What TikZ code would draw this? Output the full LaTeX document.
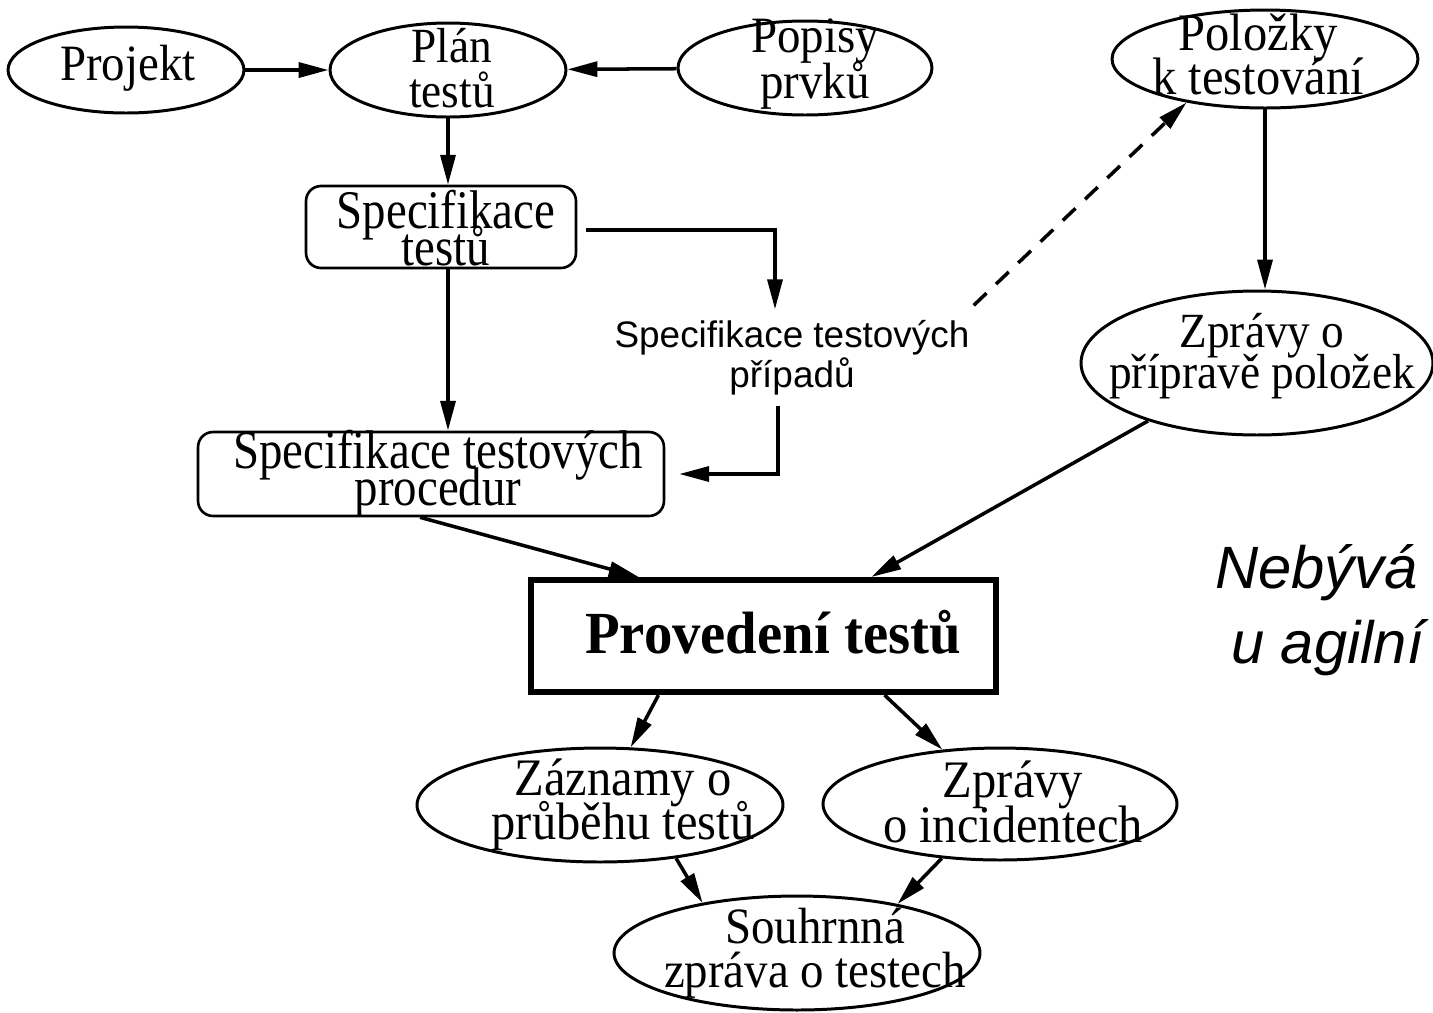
\documentclass[tikz,border=0pt]{standalone}
\usepackage{fontspec}
\setmainfont{Liberation Serif}
\newfontfamily\ElF[FakeStretch=0.92]{Liberation Serif}
\newfontfamily\BxF[FakeStretch=0.86]{Liberation Serif}
\newfontfamily\PvF[FakeStretch=0.95]{Liberation Serif}
\newfontfamily\SnF{Liberation Sans}
\usetikzlibrary{arrows.meta,shapes.geometric,calc}
\newcommand\fsz[2]{\fontsize{#1}{#2}\selectfont\lineskiplimit=-100pt\lineskip=0pt}
\tikzset{
 ell/.style={draw, ellipse, line width=1.7pt, inner sep=0pt},
 rbox/.style={draw, rectangle, rounded corners=0.3cm, line width=1.5pt, inner sep=0pt},
 mainbox/.style={draw, rectangle, line width=3.5pt, inner sep=0pt},
 lbl/.style={inner sep=0pt, align=center},
 arr/.style={line width=2pt, -{Triangle[length=17pt,width=8.5pt]}},
}
\begin{document}
\begin{tikzpicture}[x=0.02cm,y=-0.02cm]
\useasboundingbox (0,0) rectangle (1433,1012);
% shapes
\node[ell, minimum width=4.72cm, minimum height=1.72cm] (projekt) at (126,70) {};
\node[ell, minimum width=4.72cm, minimum height=1.88cm] (plan) at (448,70) {};
\node[ell, minimum width=5.08cm, minimum height=1.88cm] (popisy) at (805,68) {};
\node[ell, minimum width=6.12cm, minimum height=1.96cm] (polozky) at (1265,59) {};
\node[ell, minimum width=7.04cm, minimum height=2.88cm] (zpravyp) at (1257,363) {};
\node[rbox, minimum width=5.4cm, minimum height=1.64cm] (spectest) at (441,227) {};
\node[rbox, minimum width=9.32cm, minimum height=1.68cm] (procedur) at (431,474) {};
\node[mainbox, minimum width=9.3cm, minimum height=2.24cm] (provedeni) at (763.5,636) {};
\node[ell, minimum width=7.32cm, minimum height=2.28cm] (zaznamy) at (600,805) {};
\node[ell, minimum width=7.08cm, minimum height=2.24cm] (zpravyi) at (1000,804) {};
\node[ell, minimum width=7.32cm, minimum height=2.28cm] (souhrnna) at (797,953) {};
% texts
\node[lbl, font=\ElF\fsz{29}{24}] (projekt-t) at (128,68) {Projekt};
\node[lbl, font=\ElF\fsz{28}{26}] (plan-t) at (452,68) {Plán\\testů};
\node[lbl, font=\ElF\fsz{29}{26}] (popisy-t) at (815,64) {Popisy\\prvků};
\node[lbl, font=\ElF\fsz{30}{25}] (polozky-t) at (1258,54) {Položky\\k testování};
\node[lbl, font=\ElF\fsz{28}{23}] (zpravyp-t) at (1262,356) {Zprávy o\\přípravě položek};
\node[lbl, font=\BxF\fsz{31}{21}] (spectest-t) at (446,228) {Specifikace\\testů};
\node[lbl, font=\BxF\fsz{31}{21}] (procedur-t) at (438,474) {Specifikace testových\\procedur};
\node[lbl, font=\PvF\bfseries\fsz{34}{34}] (provedeni-t) at (773,632) {Provedení testů};
\node[lbl, font=\ElF\fsz{30}{25}] (zaznamy-t) at (623,805) {Záznamy o\\průběhu testů};
\node[lbl, font=\ElF\fsz{30}{26}] (zpravyi-t) at (1013,802) {Zprávy\\o incidentech};
\node[lbl, font=\ElF\fsz{29}{25}] (souhrnna-t) at (815,953) {Souhrnná\\zpráva o testech};
\node[lbl, font=\SnF\fsz{21}{22.7}] (pripady) at (792,358) {Specifikace testových\\případů};
\node[inner sep=0pt, anchor=base west, align=left, font=\SnF\itshape\fsz{34}{42.5}] (note) at (1215,663) {Nebývá\\\hspace*{9pt}u agilní};
% connectors
\draw[arr] (projekt) -- (plan);
\draw[arr] (popisy) -- (plan);
\draw[arr] (plan.south) -- (plan.south |- spectest.north);
\draw[arr] (spectest.south -| plan.south) -- (procedur.north -| plan.south);
\draw[arr] ([xshift=0.18cm,yshift=-0.06cm]spectest.east) -| ([xshift=-0.34cm,yshift=0.22cm]pripady.north);
\draw[arr] ([xshift=-0.28cm,yshift=-0.2cm]pripady.south) |- ([xshift=0.28cm]procedur.east);
\draw[arr, dash pattern=on 10pt off 7.5pt] ([xshift=0.08cm,yshift=0.3cm]pripady.north east) -- (polozky.209);
\draw[arr] (polozky.south) -- (polozky.south |- zpravyp.north);
\draw[arr] (zpravyp.208) -- ($(provedeni.north west)!0.729!(provedeni.north east)$);
\draw[arr] ([xshift=-0.22cm]procedur.south) -- ($(provedeni.north west)!0.235!(provedeni.north east)$);
\draw[arr] ($(provedeni.south west)!0.277!(provedeni.south east)$) -- (zaznamy);
\draw[arr] ($(provedeni.south west)!0.757!(provedeni.south east)$) -- (zpravyi);
\draw[arr] (zaznamy.-35) -- (souhrnna.152);
\draw[arr] (zpravyi.223) -- (souhrnna.26);
\end{tikzpicture}
\end{document}
